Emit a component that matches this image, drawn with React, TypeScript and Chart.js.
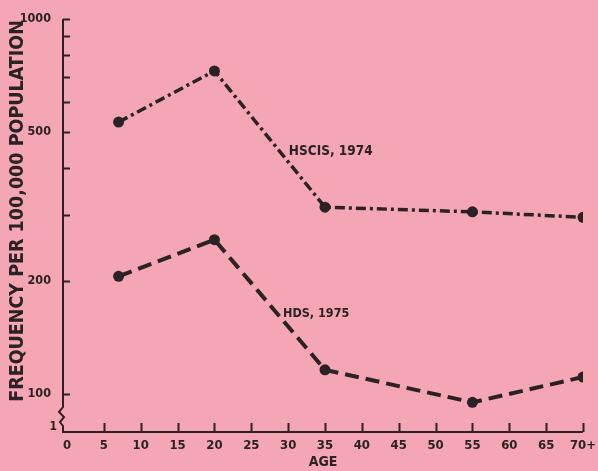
import { useEffect, useRef } from "react";
import { Chart, registerables } from "chart.js";

Chart.register(...registerables);

// ---- data ----
const ages = [7, 20, 35, 55, 70];
const hscis1974 = [531, 727, 315, 306, 296];
const hds1975 = [206, 258, 116, 95, 111];
const xTickValues = [0, 5, 10, 15, 20, 25, 30, 35, 40, 45, 50, 55, 60, 65, 70];
const xTickLabels = ["0", "5", "10", "15", "20", "25", "30", "35", "40", "45", "50", "55", "60", "65", "70+"];
const yTickValues = [100, 200, 300, 400, 500, 600, 700, 800, 900, 1000];
const yLabeledTicks = [100, 200, 500, 1000];
const seriesNames = ["HSCIS, 1974", "HDS, 1975"];

const BG = "rgb(244,166,180)";
const INK = "#2a2224";
const FONT = "'DejaVu Sans Condensed', 'DejaVu Sans', sans-serif";

const decorPlugin = {
  id: "decor",
  beforeDraw(chart: any) {
    const { ctx, width, height } = chart;
    ctx.save();
    ctx.fillStyle = BG;
    ctx.fillRect(0, 0, width, height);
    ctx.restore();
  },
  afterDraw(chart: any) {
    const { ctx, chartArea } = chart;
    const xs = chart.scales.x;
    const ys = chart.scales.y;
    const ax = chartArea.left;
    const bottom = chartArea.bottom;
    ctx.save();
    ctx.strokeStyle = INK;
    ctx.fillStyle = INK;
    ctx.lineWidth = 2;
    ctx.lineCap = "butt";
    // y axis with break
    const yBreak = ys.getPixelForValue(100) + 13;
    ctx.beginPath();
    ctx.moveTo(ax, chartArea.top);
    ctx.lineTo(ax, yBreak);
    ctx.lineTo(ax - 4, yBreak + 5);
    ctx.lineTo(ax + 1, yBreak + 10);
    ctx.lineTo(ax - 3, yBreak + 15);
    ctx.lineTo(ax, yBreak + 19);
    ctx.lineTo(ax, bottom);
    ctx.stroke();
    // x axis
    ctx.beginPath();
    ctx.moveTo(ax - 1, bottom);
    ctx.lineTo(chartArea.right, bottom);
    ctx.stroke();
    // inward ticks
    yTickValues.forEach((v) => {
      const py = Math.round(ys.getPixelForValue(v)) + 0.5;
      ctx.beginPath();
      ctx.moveTo(ax, py);
      ctx.lineTo(ax + 7, py);
      ctx.stroke();
    });
    xTickValues.forEach((v) => {
      if (v === 0) return;
      const px = Math.round(xs.getPixelForValue(v)) + 0.5;
      ctx.beginPath();
      ctx.moveTo(px, bottom);
      ctx.lineTo(px, bottom - 9);
      ctx.stroke();
    });
    // "1" at the break
    ctx.font = `bold 12px ${FONT}`;
    ctx.textAlign = "right";
    ctx.textBaseline = "middle";
    ctx.fillText("1", ax - 6, bottom - 5);
    // series labels
    ctx.font = `bold 13.5px ${FONT}`;
    ctx.textAlign = "left";
    ctx.fillText(seriesNames[0], xs.getPixelForValue(30.1), ys.getPixelForValue(442));
    ctx.font = `bold 12.5px ${FONT}`;
    ctx.fillText(seriesNames[1], xs.getPixelForValue(29.3), ys.getPixelForValue(164));
    // y title
    ctx.font = `bold 19.5px ${FONT}`;
    ctx.textAlign = "center";
    ctx.translate(18, 211);
    ctx.rotate(-Math.PI / 2);
    ctx.fillText("FREQUENCY PER 100,000 POPULATION", 0, 0);
    ctx.restore();
  },
};

export default function App() {
  const ref = useRef<HTMLCanvasElement>(null);
  useEffect(() => {
    document.body.style.margin = "0";
    const chart = new Chart(ref.current!, {
      type: "line",
      data: {
        datasets: [
          {
            label: seriesNames[0],
            data: ages.map((a, i) => ({ x: a, y: hscis1974[i] })),
            borderColor: INK,
            backgroundColor: INK,
            borderWidth: 3.5,
            borderDash: [10, 4, 3, 4],
            pointRadius: 5.5,
            pointBorderWidth: 0,
            tension: 0,
          },
          {
            label: seriesNames[1],
            data: ages.map((a, i) => ({ x: a, y: hds1975[i] })),
            borderColor: INK,
            backgroundColor: INK,
            borderWidth: 4,
            borderDash: [14, 7],
            pointRadius: 5.5,
            pointBorderWidth: 0,
            tension: 0,
          },
        ],
      },
      options: {
        animation: false,
        responsive: true,
        maintainAspectRatio: false,
        layout: { padding: { top: 19, right: 15, left: 0, bottom: 0 } },
        plugins: { legend: { display: false }, tooltip: { enabled: false } },
        scales: {
          x: {
            type: "linear",
            min: -0.54,
            max: 70,
            grid: { display: false },
            border: { display: false },
            afterBuildTicks: (s: any) => {
              s.ticks = xTickValues.map((v) => ({ value: v }));
            },
            afterFit: (s: any) => {
              s.height = 39;
            },
            ticks: {
              autoSkip: false,
              maxRotation: 0,
              padding: -2,
              color: INK,
              font: { family: FONT, weight: "bold", size: 13 },
              callback: (v: any) => {
                const i = xTickValues.indexOf(Number(v));
                return i >= 0 ? xTickLabels[i] : "";
              },
            },
            title: {
              display: true,
              text: "AGE",
              color: INK,
              padding: { top: 0, bottom: 0 },
              font: { family: FONT, weight: "bold", size: 14, lineHeight: 1.2 },
            },
          },
          y: {
            type: "logarithmic",
            min: 79.2,
            max: 1000,
            grid: { display: false },
            border: { display: false },
            afterBuildTicks: (s: any) => {
              s.ticks = yTickValues.map((v) => ({ value: v }));
            },
            afterFit: (s: any) => {
              s.width = 63;
            },
            ticks: {
              autoSkip: false,
              padding: 4,
              color: INK,
              font: { family: FONT, weight: "bold", size: 12.5 },
              callback: (v: any) => (yLabeledTicks.includes(Number(v)) ? String(v) : ""),
            },
          },
        },
      },
      plugins: [decorPlugin],
    });
    return () => chart.destroy();
  }, []);
  return (
    <div style={{ position: "fixed", left: 0, top: 0, width: 598, height: 471, background: BG }}>
      <canvas ref={ref} />
    </div>
  );
}
